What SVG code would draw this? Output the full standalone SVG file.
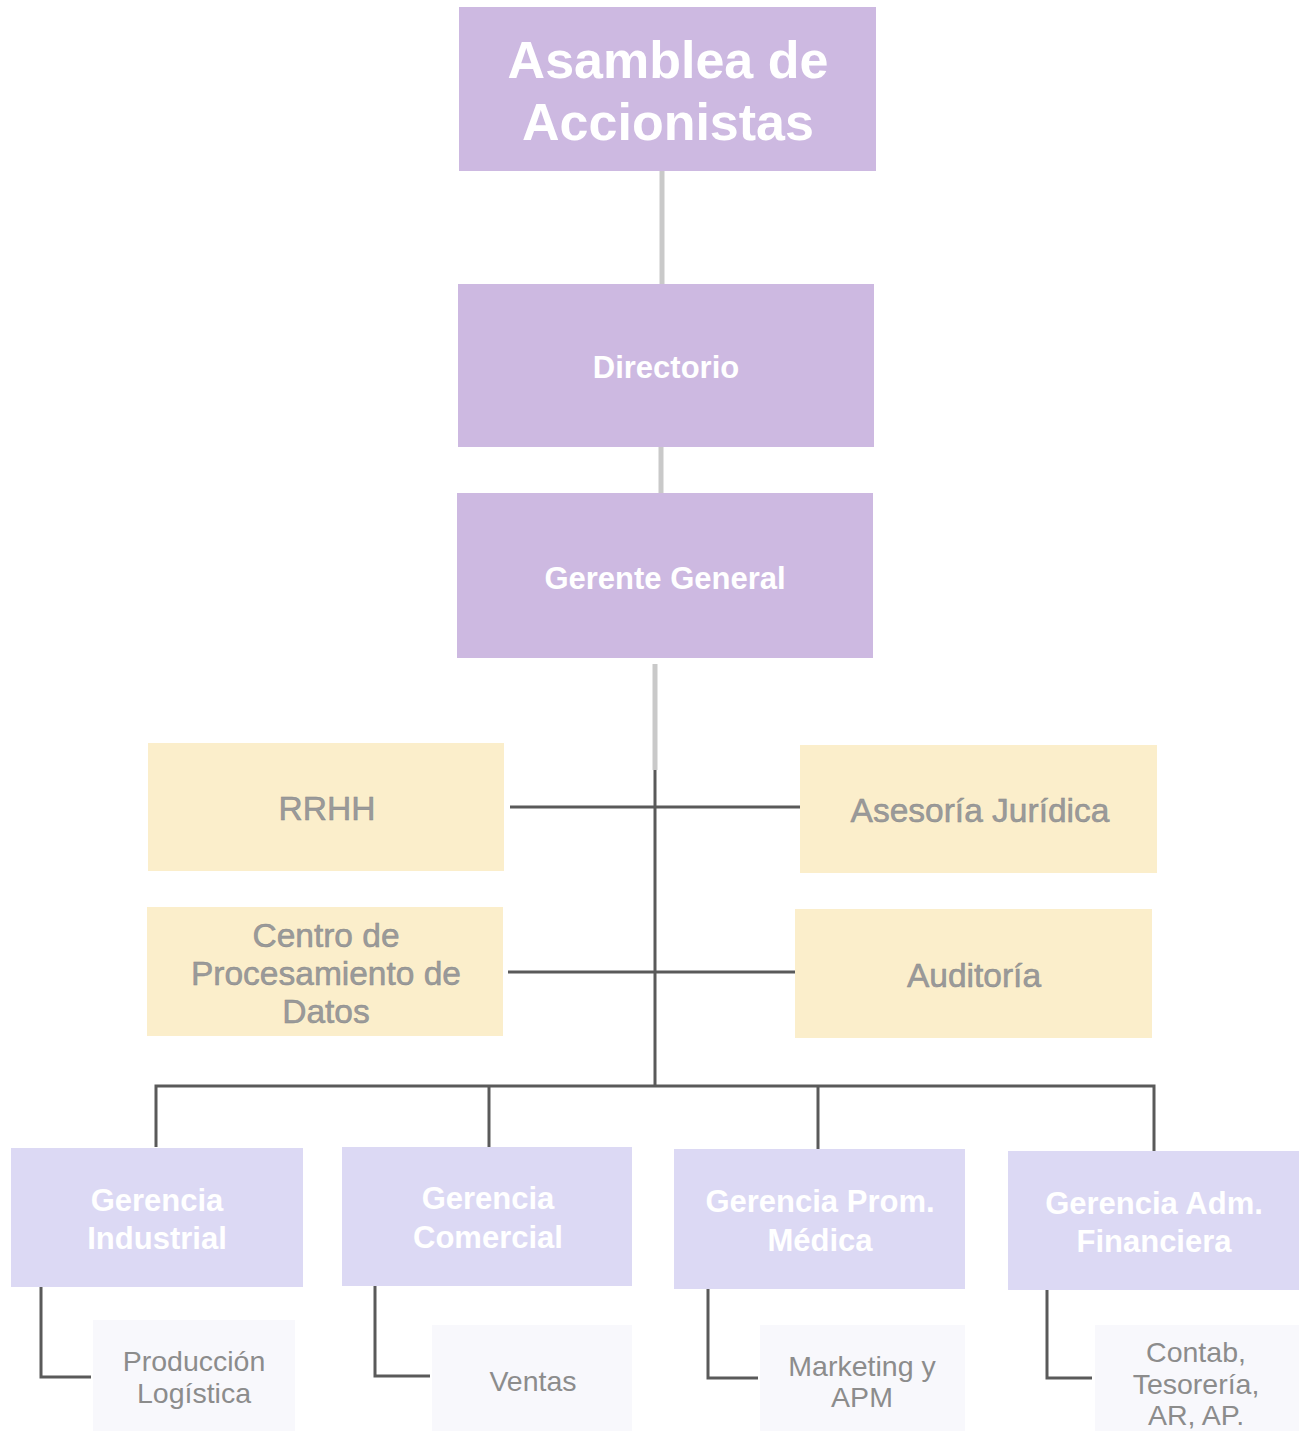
<svg xmlns="http://www.w3.org/2000/svg" width="1306" height="1431" viewBox="0 0 1306 1431">
<style>
.top{fill:#cdb9e1}
.staff{fill:#fbeecb}
.mgr{fill:#dcd9f4}
.sub{fill:#f8f8fc}
.tw{font-family:"Liberation Sans",Arial,sans-serif;fill:#ffffff;font-weight:bold;text-anchor:middle}
.tg{font-family:"Liberation Sans",Arial,sans-serif;fill:#9a9a9a;text-anchor:middle;font-size:33.5px;stroke:#8a8a8a;stroke-width:0.5}
.ts{font-family:"Liberation Sans",Arial,sans-serif;fill:#8c8c8c;text-anchor:middle;font-size:28.5px}
.lc{stroke:#c9c9c9;stroke-width:5;fill:none}
.dc{stroke:#5a5a5a;stroke-width:3;fill:none}
</style>
<rect width="1306" height="1431" fill="#ffffff"/>
<g id="connectors">
<line class="lc" x1="662" y1="171" x2="662" y2="285"/>
<line class="lc" x1="661" y1="447" x2="661" y2="494"/>
<line class="lc" x1="655" y1="664" x2="655" y2="770"/>
<line class="dc" x1="655" y1="770" x2="655" y2="1086"/>
<line class="dc" x1="510" y1="807" x2="800" y2="807"/>
<line class="dc" x1="508" y1="972" x2="795" y2="972"/>
<polyline class="dc" points="156,1147 156,1086 1154,1086 1154,1151"/>
<line class="dc" x1="489" y1="1086" x2="489" y2="1147"/>
<line class="dc" x1="818" y1="1086" x2="818" y2="1149"/>
<polyline class="dc" points="41,1287 41,1377 91,1377"/>
<polyline class="dc" points="375,1286 375,1376 430,1376"/>
<polyline class="dc" points="708,1289 708,1378 758,1378"/>
<polyline class="dc" points="1047,1290 1047,1378 1092,1378"/>
</g>
<g id="asamblea">
<rect class="top" x="459" y="7" width="417" height="164"/>
<text class="tw" font-size="52" x="668" y="78">Asamblea de</text>
<text class="tw" font-size="52" x="668" y="140">Accionistas</text>
</g>
<g id="directorio">
<rect class="top" x="458" y="284" width="416" height="163"/>
<text class="tw" font-size="31" x="666" y="378">Directorio</text>
</g>
<g id="gerente-general">
<rect class="top" x="457" y="493" width="416" height="165"/>
<text class="tw" font-size="31" x="665" y="589">Gerente General</text>
</g>
<g id="rrhh">
<rect class="staff" x="148" y="743" width="356" height="128"/>
<text class="tg" x="327" y="820">RRHH</text>
</g>
<g id="asesoria">
<rect class="staff" x="800" y="745" width="357" height="128"/>
<text class="tg" x="980" y="822">Asesoría Jurídica</text>
</g>
<g id="centro">
<rect class="staff" x="147" y="907" width="356" height="129"/>
<text class="tg" x="326" y="947">Centro de</text>
<text class="tg" x="326" y="985">Procesamiento de</text>
<text class="tg" x="326" y="1023">Datos</text>
</g>
<g id="auditoria">
<rect class="staff" x="795" y="909" width="357" height="129"/>
<text class="tg" x="974" y="987">Auditoría</text>
</g>
<g id="ger-industrial">
<rect class="mgr" x="11" y="1148" width="292" height="139"/>
<text class="tw" font-size="31" x="157" y="1211">Gerencia</text>
<text class="tw" font-size="31" x="157" y="1249">Industrial</text>
</g>
<g id="ger-comercial">
<rect class="mgr" x="342" y="1147" width="290" height="139"/>
<text class="tw" font-size="31" x="488" y="1209">Gerencia</text>
<text class="tw" font-size="31" x="488" y="1248">Comercial</text>
</g>
<g id="ger-medica">
<rect class="mgr" x="674" y="1149" width="291" height="140"/>
<text class="tw" font-size="31" x="820" y="1212">Gerencia Prom.</text>
<text class="tw" font-size="31" x="820" y="1251">Médica</text>
</g>
<g id="ger-financiera">
<rect class="mgr" x="1008" y="1151" width="291" height="139"/>
<text class="tw" font-size="31" x="1154" y="1214">Gerencia Adm.</text>
<text class="tw" font-size="31" x="1154" y="1252">Financiera</text>
</g>
<g id="produccion">
<rect class="sub" x="93" y="1320" width="202" height="111"/>
<text class="ts" x="194" y="1371">Producción</text>
<text class="ts" x="194" y="1403">Logística</text>
</g>
<g id="ventas">
<rect class="sub" x="432" y="1325" width="200" height="106"/>
<text class="ts" x="533" y="1391">Ventas</text>
</g>
<g id="marketing">
<rect class="sub" x="760" y="1325" width="205" height="106"/>
<text class="ts" x="862" y="1376">Marketing y</text>
<text class="ts" x="862" y="1407">APM</text>
</g>
<g id="contab">
<rect class="sub" x="1095" y="1325" width="204" height="106"/>
<text class="ts" x="1196" y="1362">Contab,</text>
<text class="ts" x="1196" y="1394">Tesorería,</text>
<text class="ts" x="1196" y="1425">AR, AP.</text>
</g>
</svg>
